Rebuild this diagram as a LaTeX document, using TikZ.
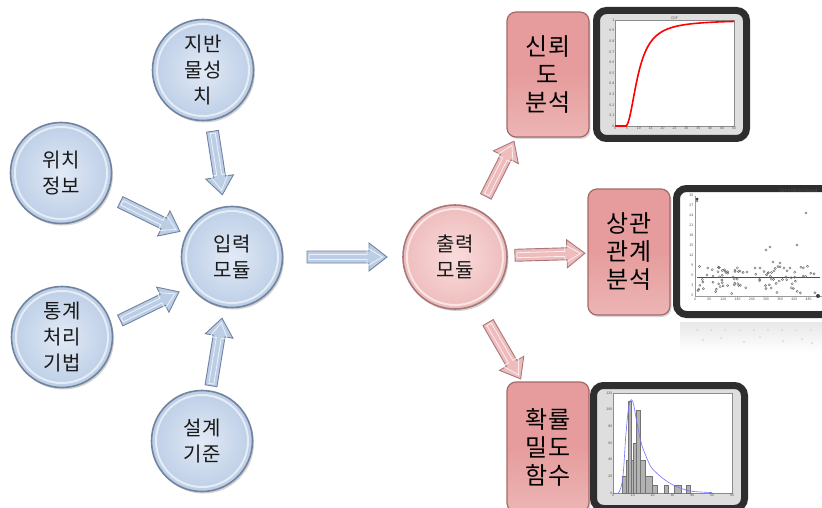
\documentclass[tikz,border=0pt]{standalone}
\usepackage{fontspec}
\setmainfont{Noto Sans CJK KR}
\usetikzlibrary{calc,shadows}
\definecolor{cblue}{RGB}{188,206,230}
\definecolor{cbluein}{RGB}{226,234,246}
\definecolor{cblueedge}{RGB}{112,132,160}
\definecolor{cpink}{RGB}{238,188,188}
\definecolor{cpinkin}{RGB}{250,220,220}
\definecolor{cpinkedge}{RGB}{170,120,120}
\definecolor{bpink}{RGB}{230,156,156}
\definecolor{bpinkedge}{RGB}{165,105,105}
\newcommand\blockarr[3]{%
  \path let \p1=(#1), \p2=(#2) in \pgfextra{%
    \pgfmathsetmacro\baTmpA{atan2((\y2)-(\y1),(\x2)-(\x1))}%
    \pgfmathsetmacro\baTmpL{veclen((\x2)-(\x1),(\y2)-(\y1))}%
    \global\let\baAng\baTmpA \global\let\baLen\baTmpL};
  \begin{scope}[shift={(#1)},rotate=\baAng]
    \draw[#3] (0pt,-6pt) -- ({\baLen pt-18pt},-6pt) -- ({\baLen pt-18pt},-14pt) -- ({\baLen pt},0pt) -- ({\baLen pt-18pt},14pt) -- ({\baLen pt-18pt},6pt) -- (0pt,6pt) -- cycle;
    \draw[arrowhl] (2pt,-2.5pt) -- ({\baLen pt-20pt},-2.5pt) -- ({\baLen pt-20pt},-9pt) -- ({\baLen pt-4.5pt},0pt) -- ({\baLen pt-20pt},9pt) -- ({\baLen pt-20pt},2.5pt) -- (2pt,2.5pt) -- cycle;
  \end{scope}}
\begin{document}
\begin{tikzpicture}[x=1pt,y=-1pt,
  incircle/.style={circle, minimum size=101pt, inner sep=0pt, draw=cblueedge, line width=1.6pt,
    inner color=cbluein, outer color=cblue, align=center, text=black!90,
    drop shadow={opacity=0.35,shadow xshift=1.5pt,shadow yshift=-2pt},
    font=\fontsize{20}{26}\selectfont},
  outcircle/.style={incircle, draw=cpinkedge, inner color=cpinkin, outer color=cpink},
  rimline/.style={draw=white, opacity=0.6, line width=2pt},
  resbox/.style={rectangle, rounded corners=9pt, draw=bpinkedge, line width=1.2pt,
    top color=bpink, bottom color=bpink!75!white, middle color=bpink,
    minimum width=82pt, inner sep=0pt, align=center,
    drop shadow={opacity=0.3,shadow xshift=1.5pt,shadow yshift=-2pt},
    font=\fontsize{24}{28}\selectfont},
  chartframe/.style={rectangle, rounded corners=10pt, draw=black!82, line width=7pt,
    fill=black!13, inner sep=0pt,
    drop shadow={opacity=0.3,shadow xshift=2pt,shadow yshift=-2pt}},
  bluearrow/.style={fill=cblue, draw=cblueedge, line width=0.9pt, line join=miter},
  pinkarrow/.style={fill=cpink, draw=cpinkedge, line width=0.9pt, line join=miter},
  arrowhl/.style={draw=white, opacity=0.75, line width=0.8pt, line join=miter},
  tick/.style={font=\fontsize{3.5}{4}\selectfont, text=black!70, inner sep=0.5pt},
  scatpt/.style={draw=black!60, line width=0.4pt},
  refpt/.style={draw=black!15, line width=0.4pt},
]
\fill[white] (0,0) rectangle (822,508);
\useasboundingbox (0,0) rectangle (822,508);

% input circles
\node[incircle] (jiban) at (203,70) {지반\\물성\\치};
\node[incircle] (wichi) at (61,173) {위치\\정보};
\node[incircle] (ipryeok) at (232,257) {입력\\모듈};
\node[incircle] (tonggye) at (62,337) {통계\\처리\\기법};
\node[incircle] (seolgye) at (202,441) {설계\\기준};
\node[outcircle, minimum size=104pt] (chulryeok) at (455,257) {출력\\모듈};
\foreach \n in {jiban,wichi,ipryeok,tonggye,seolgye} \draw[rimline] (\n) circle (46pt);
\draw[rimline] (chulryeok) circle (48pt);

% result boxes
\node[resbox, minimum height=125pt] (box1) at (548,74.5) {신뢰\\도\\분석};
\node[resbox, minimum height=126pt] (box2) at (629,252) {상관\\관계\\분석};
\node[resbox, minimum height=130pt] (box3) at (548,447) {확률\\밀도\\함수};

% arrows
\blockarr{$(jiban)!62pt!(ipryeok)$}{$(ipryeok)!63pt!(jiban)$}{bluearrow}
\blockarr{$(wichi)!66pt!(ipryeok)$}{$(ipryeok)!58pt!(wichi)$}{bluearrow}
\blockarr{$(tonggye)!60pt!(ipryeok)+(4,9)$}{$(ipryeok)!63pt!(tonggye)+(4,8)$}{bluearrow}
\blockarr{$(seolgye)!56pt!(ipryeok)$}{$(ipryeok)!62pt!(seolgye)$}{bluearrow}
\blockarr{$(ipryeok)!75pt!(chulryeok)$}{$(chulryeok)!68pt!(ipryeok)$}{bluearrow}
\blockarr{$(chulryeok)!68pt!(box1)$}{$(chulryeok)!130pt!(box1)$}{pinkarrow}
\blockarr{$(chulryeok)!60pt!(box2)$}{$(chulryeok)!130pt!(box2)$}{pinkarrow}
\blockarr{$(chulryeok)!73pt!(box3)+(1,0)$}{$(chulryeok)!138pt!(box3)+(5,-2)$}{pinkarrow}

% chart 1 : CDF
\node[chartframe, minimum width=150pt, minimum height=128pt] (chart1) at (671.5,74.5) {};
\fill[white] (615,20) rectangle (734,126);
\draw[black!45, line width=0.3pt] (615,20) rectangle (734,126);
\node[tick, anchor=south] at (674.5,20) {CDF};
\foreach \v [count=\i from 0] in {0,0.1,0.2,0.3,0.4,0.5,0.6,0.7,0.8,0.9,1}
  \node[tick, anchor=east] at (615,{126-10.6*\i}) {\v};
\foreach \v [count=\i from 0] in {0,5,10,15,20,25,30,35,40,45,50}
  \node[tick, anchor=north] at ({615+11.9*\i},126) {\v};
\begin{scope}[shift={(615pt,-126pt)}, x=2.38pt, y=106pt]
  \draw[red, line width=1.6pt, line join=round] (0,0) -- (4.6,0)
    -- plot[smooth, domain=4.7:50, samples=70] (\x,{1/(1+((\x-4.5)/5.4)^(-2.017))});
\end{scope}

% chart 2 : scatter, with its faint reflection
\shade[top color=black!9, bottom color=white] (680,322) rectangle (822,352);
\foreach \i in {0,...,8} \draw[refpt] ({697+14.2*\i},330) circle (0.8pt);
\foreach \p in {(703,340),(721,338),(744,342),(760,337),(783,341),(802,339),(812,343)} \draw[refpt] \p circle (0.8pt);
\node[chartframe, fill=white, minimum width=155pt, minimum height=126pt] (chart2) at (754,251.5) {};
\draw[black!40, line width=0.3pt] (695,196) -- (695,296) -- (822,296);
\node[tick, anchor=north east, font=\fontsize{5}{6}\selectfont] at (818,188) {Omnidirectional};
\foreach \v [count=\i from 0] in {0,3,6,9,12,15,18,21,24,27,30}
  \node[tick, anchor=east] at (694,{295-10*\i}) {\v};
\foreach \v [count=\i from 0] in {0,60,120,180,240,300,360,420,480}
  \node[tick, anchor=north] at ({695+14.2*\i},297) {\v};
\draw[black!70, line width=0.8pt] (697,277) -- (820,277);
\pgfmathsetseed{11}
\foreach \i in {1,...,85}{
  \pgfmathsetmacro\sx{698+120*rnd}
  \pgfmathsetmacro\sy{266+28*rnd}
  \draw[scatpt] (\sx,\sy) circle (1.1pt);
}
\foreach \p in {(697,201),(806,213),(766,250),(770,247),(797,245),(780,263),(784,268),(733,277),(713,276),(740,271),(747,272),(760,268),(773,262),(790,268),(707,275),(725,271),(755,268)}
  \draw[scatpt] \p circle (1.1pt);
\fill[black!75] (818,296) circle (2pt);
\fill[black!75] (697,199) circle (1.5pt);

% chart 3 : histogram + pdf
\node[chartframe, minimum width=151pt, minimum height=123pt] (chart3) at (669,447) {};
\fill[white] (613,393) rectangle (732,493);
\draw[black!45, line width=0.3pt] (613,393) rectangle (732,493);
\foreach \v [count=\i from 0] in {0,20,40,60,80,100,120}
  \node[tick, anchor=east] at (613,{493-16.67*\i}) {\v};
\foreach \v [count=\i from 0] in {0,10,20,30,40,50,60}
  \node[tick, anchor=north] at ({613+19.83*\i},493) {\v};
\begin{scope}[shift={(613pt,-493pt)}, x=1.983pt, y=0.833pt]
  \foreach \a/\b/\h in {4.5/6.5/20, 6.5/10/40, 7.5/9.3/110, 10/13.5/60, 11.8/13.5/100, 13.5/16/40, 16/19.5/20, 19.5/22.5/10, 26/28/10, 31/34.5/10, 37/39/10}
    \draw[fill=black!30, draw=black!55, line width=0.3pt] (\a,0) rectangle (\b,\h);
  \draw[blue!55, line width=0.6pt] plot[smooth, tension=0.6] coordinates
    {(0,0.5) (3,1) (5,20) (6.5,70) (8,105) (9.3,112) (10.5,105) (12,85) (14,62) (16,48) (19,32) (22,24) (26,16) (30,10) (35,5) (40,2) (50,0.5)};
\end{scope}
\end{tikzpicture}
\end{document}
